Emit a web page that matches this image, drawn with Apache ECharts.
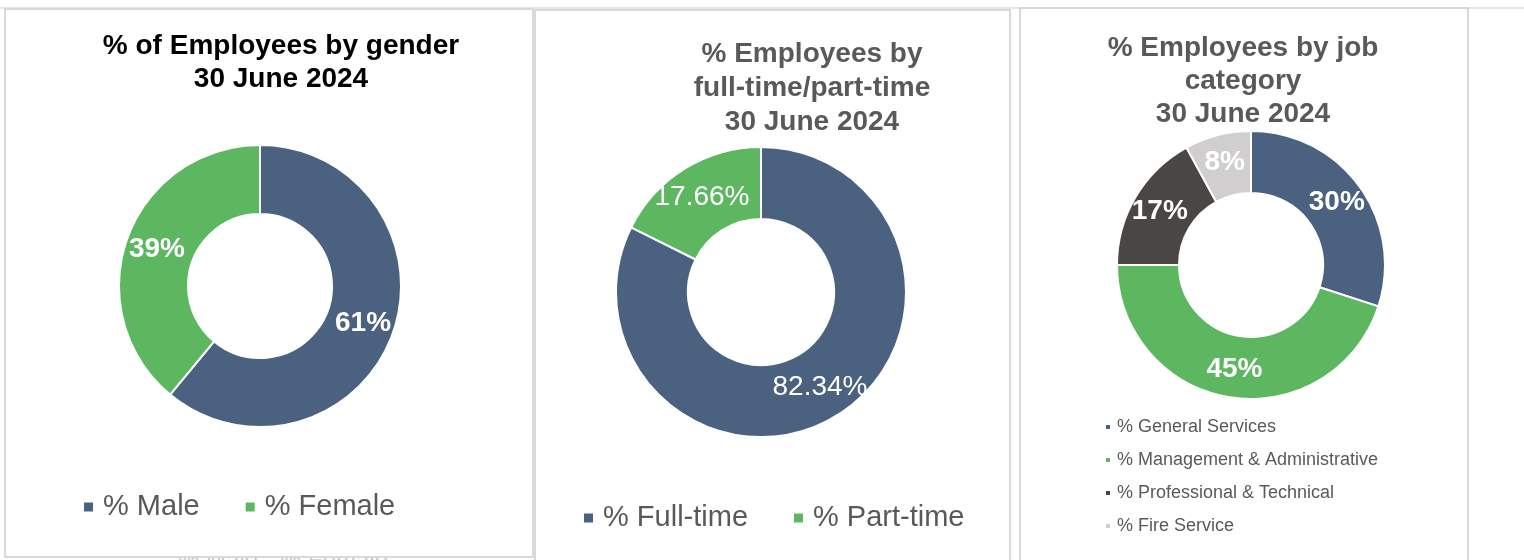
<!DOCTYPE html>
<html>
<head>
<meta charset="utf-8">
<script src="https://cdn.jsdelivr.net/npm/echarts@6/dist/echarts.min.js"></script>
<style>
  html, body { margin: 0; padding: 0; background: #ffffff; }
  #chart { width: 1524px; height: 560px; }
</style>
</head>
<body>
<div id="chart"></div>
<script>
// ---- Data ----
const genderCategories = ['% Male', '% Female'];
const genderValues = [61, 39];

const workCategories = ['% Full-time', '% Part-time'];
const workValues = [82.34, 17.66];

const jobCategories = ['% General Services', '% Management & Administrative', '% Professional & Technical', '% Fire Service'];
const jobValues = [30, 45, 17, 8];

const titles = [
  '% of Employees by gender\n30 June 2024',
  '% Employees by\nfull-time/part-time\n30 June 2024',
  '% Employees by job\ncategory\n30 June 2024'
];

// ---- Styling ----
const FONT = '"Liberation Sans", Arial, Helvetica, sans-serif';
const BLUE = '#4a6180';
const GREEN = '#5cb760';
const DARK = '#4a4643';
const LIGHT = '#d0cece';
const TEXT = '#595959';
const BORDER = '#d9d9d9';

function toData(cats, vals) {
  return cats.map((c, i) => ({ name: c, value: vals[i] }));
}

const chart = echarts.init(document.getElementById('chart'), null, { renderer: 'canvas' });

const option = {
  backgroundColor: '#ffffff',
  animation: false,
  graphic: [
    // faint text of a chart behind, peeking below panel 1
    { type: 'text', z: 0, style: { text: '% Male', x: 178, y: 549, font: '24px ' + FONT, fill: '#c9c9c9' } },
    { type: 'text', z: 0, style: { text: '% Female', x: 280, y: 549, font: '24px ' + FONT, fill: '#c9c9c9' } },
    // top faint line
    { type: 'line', z: 1, shape: { x1: 0, y1: 8, x2: 1524, y2: 8 }, style: { stroke: '#e6e6e6', lineWidth: 2 } },
    // panels
    { type: 'rect', z: 2, shape: { x: 5, y: 9, width: 528, height: 548 }, style: { fill: '#ffffff', stroke: BORDER, lineWidth: 2 } },
    { type: 'rect', z: 2, shape: { x: 535, y: 10, width: 475, height: 570 }, style: { fill: '#ffffff', stroke: BORDER, lineWidth: 2 } },
    { type: 'rect', z: 2, shape: { x: 1020, y: 8, width: 448, height: 572 }, style: { fill: '#ffffff', stroke: BORDER, lineWidth: 2 } },
    // titles
    { type: 'text', z: 3, style: { text: titles[0], x: 281, y: 30, textAlign: 'center', textVerticalAlign: 'top', font: 'bold 28px ' + FONT, lineHeight: 33, fill: '#000000' } },
    { type: 'text', z: 3, style: { text: titles[1], x: 812, y: 37, textAlign: 'center', textVerticalAlign: 'top', font: 'bold 28px ' + FONT, lineHeight: 34, fill: TEXT } },
    { type: 'text', z: 3, style: { text: titles[2], x: 1243, y: 32, textAlign: 'center', textVerticalAlign: 'top', font: 'bold 28px ' + FONT, lineHeight: 33, fill: TEXT } }
  ],
  legend: [
    {
      data: genderCategories, left: 82, top: 492, padding: 0, itemWidth: 11, itemHeight: 11, itemGap: 44,
      icon: 'rect', selectedMode: false,
      textStyle: { fontSize: 29, lineHeight: 30, color: TEXT, fontFamily: FONT, padding: [0, 0, 0, 4] }
    },
    {
      data: workCategories, left: 582, top: 503, padding: 0, itemWidth: 11, itemHeight: 11, itemGap: 44,
      icon: 'rect', selectedMode: false,
      textStyle: { fontSize: 29, lineHeight: 30, color: TEXT, fontFamily: FONT, padding: [0, 0, 0, 4] }
    },
    {
      data: jobCategories, orient: 'vertical', left: 1104, top: 417, padding: 0, itemWidth: 6, itemHeight: 6, itemGap: 13,
      icon: 'rect', selectedMode: false,
      textStyle: { fontSize: 18, lineHeight: 20, color: TEXT, fontFamily: FONT, padding: [0, 0, 0, 1] }
    }
  ],
  series: [
    {
      type: 'pie', z: 5, center: [260, 286], radius: [72, 141], startAngle: 90, clockwise: true,
      color: [BLUE, GREEN],
      itemStyle: { borderColor: '#ffffff', borderWidth: 2 },
      label: { show: true, position: 'inside', formatter: '{c}%', color: '#ffffff', fontSize: 28, fontWeight: 'bold', fontFamily: FONT },
      labelLine: { show: false },
      emphasis: { disabled: true },
      data: toData(genderCategories, genderValues)
    },
    {
      type: 'pie', z: 5, center: [761, 292], radius: [73, 145], startAngle: 90, clockwise: true,
      color: [BLUE, GREEN],
      itemStyle: { borderColor: '#ffffff', borderWidth: 2 },
      label: { show: true, position: 'inside', formatter: (p) => p.value.toFixed(2) + '%', color: '#ffffff', fontSize: 28, fontWeight: 'normal', fontFamily: FONT },
      labelLine: { show: false },
      emphasis: { disabled: true },
      data: toData(workCategories, workValues)
    },
    {
      type: 'pie', z: 5, center: [1251, 265], radius: [72, 134], startAngle: 90, clockwise: true,
      color: [BLUE, GREEN, DARK, LIGHT],
      itemStyle: { borderColor: '#ffffff', borderWidth: 2 },
      label: { show: true, position: 'inside', formatter: '{c}%', color: '#ffffff', fontSize: 28, fontWeight: 'bold', fontFamily: FONT },
      labelLine: { show: false },
      emphasis: { disabled: true },
      data: toData(jobCategories, jobValues)
    }
  ]
};

chart.setOption(option);
</script>
</body>
</html>
